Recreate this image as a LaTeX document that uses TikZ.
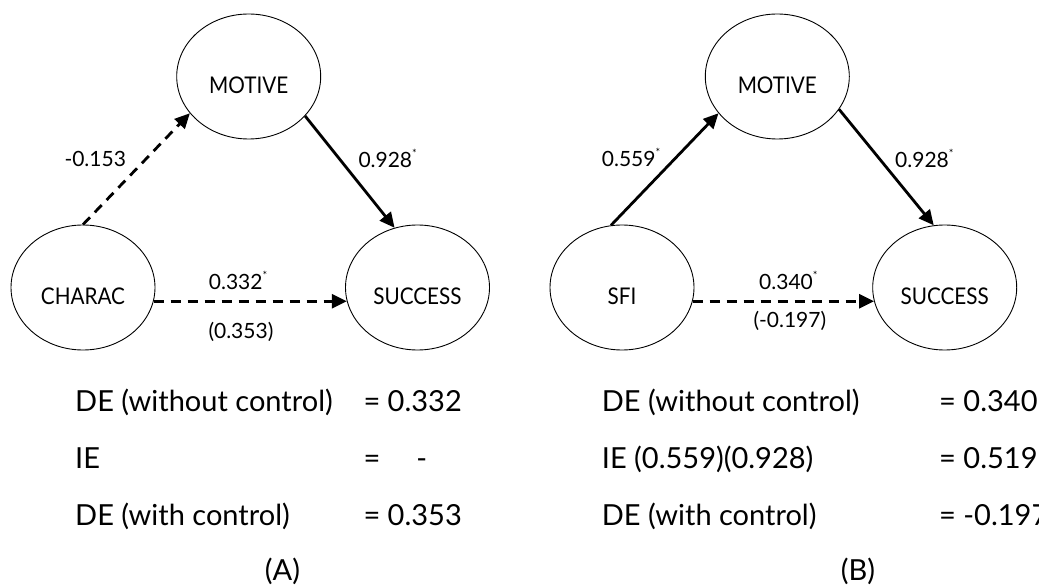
\documentclass[tikz,border=0pt]{standalone}
\usepackage{fontspec}
\setmainfont{Lato}
\newfontfamily\narrowfont{Lato}[FakeStretch=0.9]
\usetikzlibrary{shapes.geometric,arrows.meta}
\newcommand\sigstar{\raisebox{10pt}{\fontsize{11}{11}\selectfont *}}
\begin{document}
\begin{tikzpicture}[x=1pt,y=-1pt,
  var/.style={ellipse, draw, line width=0.9pt, minimum width=144pt, minimum height=125pt, inner sep=0pt},
  vlab/.style={font=\narrowfont\fontsize{23}{23}\selectfont, inner sep=0pt},
  arrowline/.style={line width=2.8pt, -{Triangle[length=15pt,width=14pt]}},
  dashedarrow/.style={arrowline, dash pattern=on 10pt off 7pt},
  coef/.style={font=\fontsize{21}{21}\selectfont, anchor=base west, inner sep=0pt},
  txt/.style={font=\fontsize{29}{29}\selectfont, anchor=base west, inner sep=0pt},
  captext/.style={font=\fontsize{29}{29}\selectfont, anchor=base, inner sep=0pt}]
\useasboundingbox (0,0) rectangle (1039,585);
% ---------- (A) ----------
\node[var] (mA) at (248.7,76.5) {};
\node[var] (cA) at (83,287.5) {};
\node[var] (sA) at (417.5,287.5) {};
\node[vlab] (mAl) at ([yshift=-9pt]mA.center) {MOTIVE};
\node[vlab] (cAl) at ([yshift=-9pt]cA.center) {CHARAC};
\node[vlab] (sAl) at ([yshift=-9pt]sA.center) {SUCCESS};
\draw[dashedarrow] (cA.north) -- (mA.212);
\draw[arrowline] (mA.325) -- (sA.111);
\draw[dashedarrow] (cA.-11.5) -- (sA.191.5);
\node[coef] (lA1) at (64.3,166.7) {-0.153};
\node[coef] (lA2) at (358.3,167.3) {0.928\sigstar};
\node[coef] (lA3) at (208.7,290) {0.332\sigstar};
\node[coef] (lA4) at (208.3,338.3) {(0.353)};
\node[txt] (tA1) at (75,411.7) {DE (without control)};
\node[txt] (tA1v) at (363.3,411.7) {= 0.332};
\node[txt] (tA2) at (75,468.3) {IE};
\node[txt] (tA2v) at (363.3,468.3) {=\hspace{36pt}-};
\node[txt] (tA3) at (75,525) {DE (with control)};
\node[txt] (tA3v) at (363.3,525) {= 0.353};
\node[captext] (capA) at (282.5,580) {(A)};
% ---------- (B) ----------
\node[var] (mB) at (777.3,76.5) {};
\node[var] (cB) at (622,287.5) {};
\node[var] (sB) at (944.7,287.5) {};
\node[vlab] (mBl) at ([yshift=-9pt]mB.center) {MOTIVE};
\node[vlab] (cBl) at ([yshift=-9pt]cB.center) {SFI};
\node[vlab] (sBl) at ([yshift=-9pt]sB.center) {SUCCESS};
\draw[arrowline] (cB.100) -- (mB.212);
\draw[arrowline] (mB.332) -- (sB.100);
\draw[dashedarrow] (cB.-11.5) -- (sB.191.5);
\node[coef] (lB1) at (601.7,167) {0.559\sigstar};
\node[coef] (lB2) at (895,167.3) {0.928\sigstar};
\node[coef] (lB3) at (759,290) {0.340\sigstar};
\node[coef] (lB4) at (753.3,327) {(-0.197)};
\node[txt] (tB1) at (601.7,411.7) {DE (without control)};
\node[txt] (tB1v) at (939,411.7) {= 0.340};
\node[txt] (tB2) at (601.7,468.3) {IE (0.559)(0.928)};
\node[txt] (tB2v) at (939,468.3) {= 0.519};
\node[txt] (tB3) at (601.7,525) {DE (with control)};
\node[txt] (tB3v) at (939,525) {= -0.197};
\node[captext] (capB) at (858,580) {(B)};
\end{tikzpicture}
\end{document}
